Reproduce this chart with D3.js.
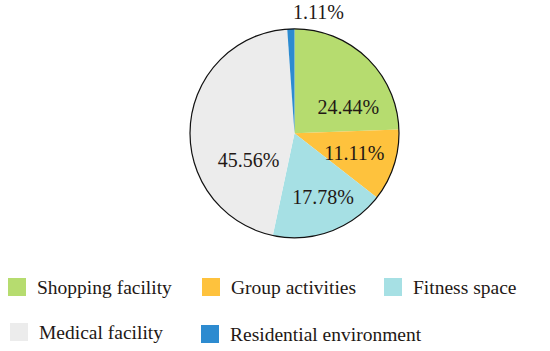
<!DOCTYPE html>
<html>
<head>
<meta charset="utf-8">
<script src="https://cdn.jsdelivr.net/npm/d3@7"></script>
<style>
  body { margin: 0; background: #fff; }
  svg { display: block; }
</style>
</head>
<body>
<svg id="chart" width="550" height="351"></svg>
<script>
// data
let categories = ['Shopping facility', 'Group activities', 'Fitness space', 'Medical facility', 'Residential environment'];
let values = [24.44, 11.11, 17.78, 45.56, 1.11];
let colors = ['#b6dc6f', '#fec23d', '#a6e0e4', '#ececec', '#2d8bd0'];

let width = 550, height = 351;
let cx = 294.5, cy = 133.3, radius = 104.5;

let svg = d3.select('#chart');
let g = svg.append('g').attr('transform', `translate(${cx},${cy})`);

let pie = d3.pie().sort(null).value(d => d);
let arcs = pie(values);
let arc = d3.arc().innerRadius(0).outerRadius(radius);

g.selectAll('path.slice')
  .data(arcs)
  .enter().append('path')
  .attr('class', 'slice')
  .attr('d', arc)
  .attr('fill', (d, i) => colors[i]);

// outer ring
g.append('circle')
  .attr('r', radius)
  .attr('fill', 'none')
  .attr('stroke', '#111')
  .attr('stroke-width', 1.2);

// label placement: angle offset (deg) and radius for each slice label
let labelNudge = [[20, 60], [0, 63], [-4, 70], [-34, 53], [0, 0]];
g.selectAll('text.pct')
  .data(arcs)
  .enter().append('text')
  .attr('class', 'pct')
  .attr('text-anchor', 'middle')
  .style('font-family', 'Liberation Serif')
  .style('font-size', '20px')
  .attr('fill', '#231815')
  .attr('transform', (d, i) => {
    if (i === values.length - 1) {
      return `translate(${radius * 0.23},${-radius - 10})`;
    }
    let a = (d.startAngle + d.endAngle) / 2 + labelNudge[i][0] * Math.PI / 180;
    let r = labelNudge[i][1];
    return `translate(${Math.sin(a) * r},${-Math.cos(a) * r + 7})`;
  })
  .text(d => d.data.toFixed(2) + '%');

// legend
let legendPos = [[8, 278], [202, 278], [384, 278], [10, 323], [201, 325]];
let legend = svg.selectAll('g.leg')
  .data(categories)
  .enter().append('g')
  .attr('class', 'leg')
  .attr('transform', (d, i) => `translate(${legendPos[i][0]},${legendPos[i][1]})`);

legend.append('rect')
  .attr('width', 18)
  .attr('height', 18)
  .attr('fill', (d, i) => colors[i]);

legend.append('text')
  .attr('x', 29)
  .attr('y', 16)
  .style('font-family', 'Liberation Serif')
  .style('font-size', '19.5px')
  .attr('fill', '#231815')
  .text(d => d);
</script>
</body>
</html>
